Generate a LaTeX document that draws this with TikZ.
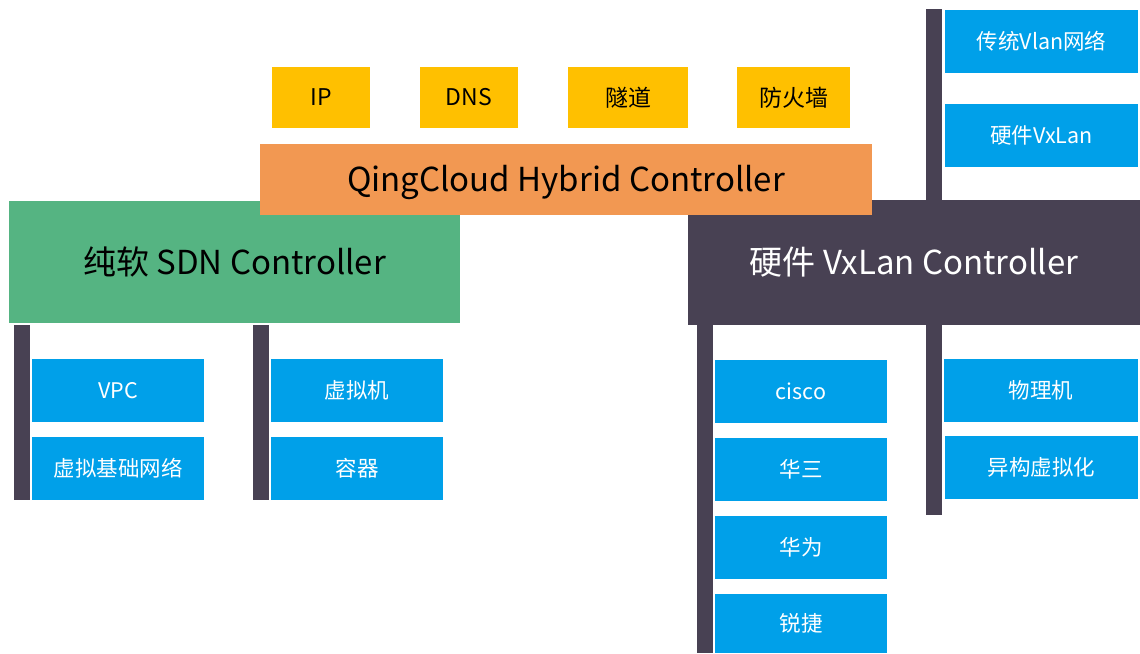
\documentclass[tikz,border=0pt]{standalone}
\usepackage{fontspec}
\setmainfont{Noto Sans CJK SC}
\definecolor{cgreen}{RGB}{85,180,130}
\definecolor{corange}{RGB}{242,152,82}
\definecolor{cyellow}{RGB}{255,192,0}
\definecolor{cblue}{RGB}{0,160,233}
\definecolor{cdark}{RGB}{72,65,83}
\newcommand\bx[7]{\node[blk,#6,minimum width=#4pt,minimum height=#5pt] (#1) at (#2,#3) {#7};}
\tikzset{
  blk/.style={inner sep=0pt, outer sep=0pt, anchor=north west, draw=none},
  big/.style={font=\fontsize{33}{40}\selectfont},
  bigb/.style={big, fill=cgreen, text=black},
  bigd/.style={big, fill=cdark, text=white},
  bigo/.style={fill=corange},
  ybox/.style={fill=cyellow, text=black, font=\fontsize{23}{28}\selectfont},
  bbox/.style={fill=cblue, text=white, font=\fontsize{21.5}{26}\selectfont},
  bar/.style={fill=cdark}
}
\begin{document}
\begin{tikzpicture}[x=1pt,y=-1pt]
\useasboundingbox[fill=white] (0,0) rectangle (1140,653);
% main controllers
\bx{sdn}{9}{201}{451}{122}{bigb}{纯软 SDN Controller}
\bx{hw}{688}{200}{452}{125}{bigd}{硬件 VxLan Controller}
% top bar right
\bx{bartop}{926}{9}{16}{191}{bar}{}
% lower bars
\bx{barl1}{14}{325}{16}{175}{bar}{}
\bx{barl2}{253}{325}{16}{175}{bar}{}
\bx{barr1}{697}{325}{16}{328}{bar}{}
\bx{barr2}{926}{325}{16}{190}{bar}{}
% hybrid controller
\bx{hyb}{260}{144}{612}{71}{bigo}{}
\node[big, text=black, inner sep=0pt] (hybt) at ([yshift=-3pt]hyb.center) {QingCloud Hybrid Controller};
% yellow boxes
\bx{ip}{272}{67}{98}{61}{ybox}{IP}
\bx{dns}{420}{67}{98}{61}{ybox}{DNS}
\bx{tun}{568}{67}{120}{61}{ybox}{隧道}
\bx{fw}{737}{67}{113}{61}{ybox}{防火墙}
% blue boxes, top right
\bx{vlan}{945}{10}{193}{63}{bbox}{传统Vlan网络}
\bx{hwvx}{945}{104}{193}{63}{bbox}{硬件VxLan}
% blue boxes, left
\bx{vpc}{32}{359}{172}{63}{bbox}{VPC}
\bx{vnet}{32}{437}{172}{63}{bbox}{虚拟基础网络}
\bx{vm}{271}{359}{172}{63}{bbox}{虚拟机}
\bx{ctr}{271}{437}{172}{63}{bbox}{容器}
% blue boxes, right
\bx{cisco}{715}{360}{172}{63}{bbox}{cisco}
\bx{h3c}{715}{438}{172}{63}{bbox}{华三}
\bx{hw2}{715}{516}{172}{63}{bbox}{华为}
\bx{rj}{715}{594}{172}{59}{bbox}{锐捷}
\bx{pm}{944}{359}{194}{63}{bbox}{物理机}
\bx{hv}{945}{436}{193}{63}{bbox}{异构虚拟化}
\end{tikzpicture}
\end{document}
